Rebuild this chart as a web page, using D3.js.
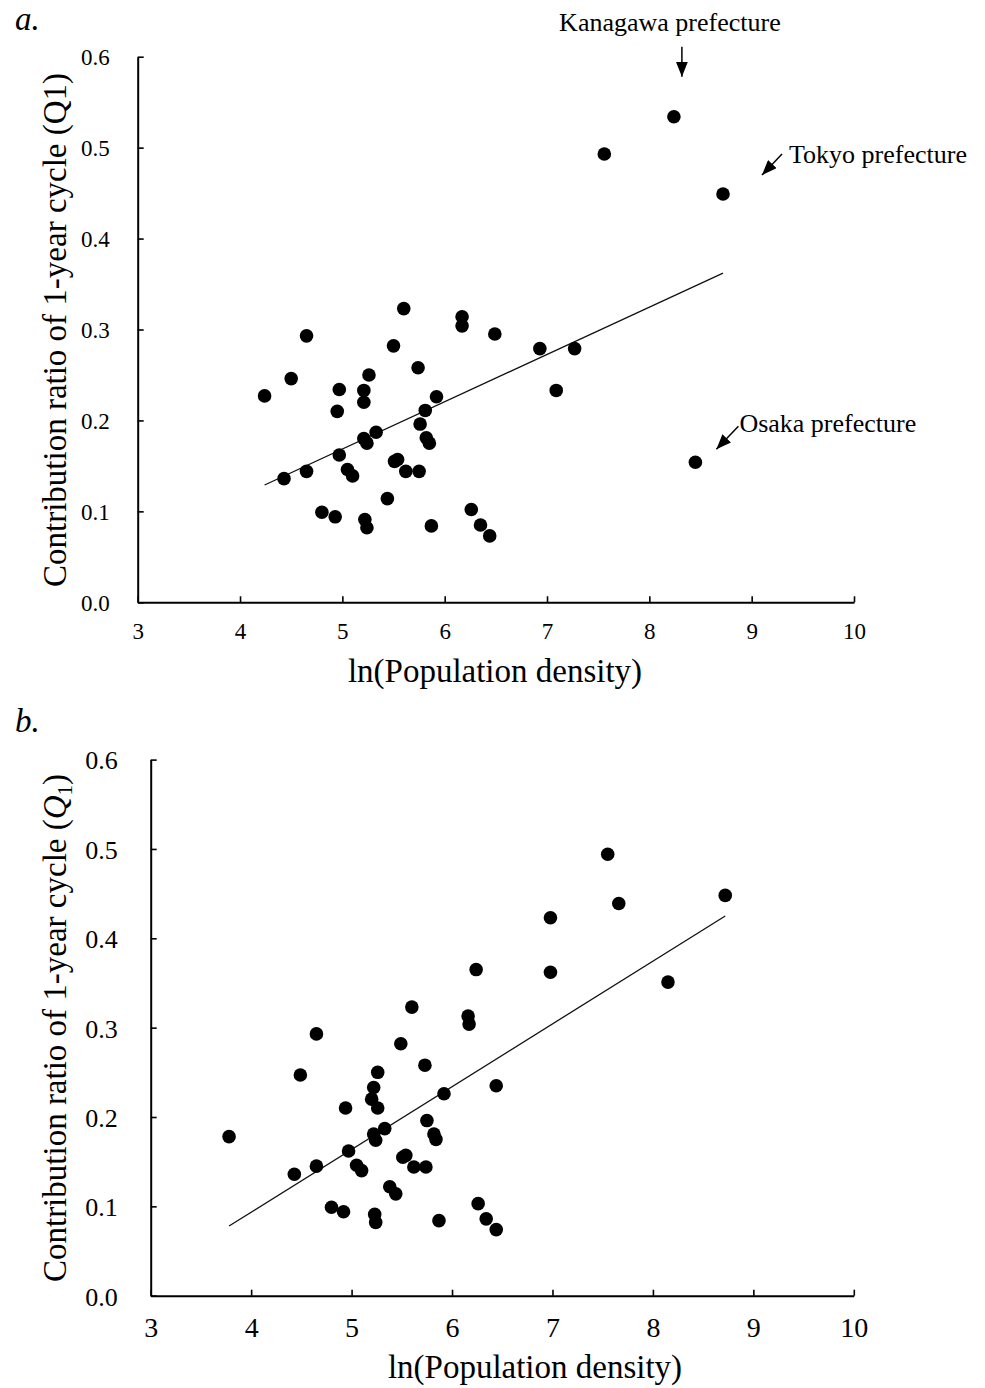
<!DOCTYPE html>
<html>
<head>
<meta charset="utf-8">
<script src="https://cdn.jsdelivr.net/npm/d3@7"></script>
<style>
    body { margin: 0; background: #fff; }
    svg text { font-family: "Liberation Serif", "Times New Roman", serif; fill: #000; }
</style>
</head>
<body>
<svg id="svg-main" width="985" height="1388"></svg>
<script>
// ticks
let xTicks = [3, 4, 5, 6, 7, 8, 9, 10];
let yTicks = [0, 0.1, 0.2, 0.3, 0.4, 0.5, 0.6];

// panel a : ln(population density) vs Q1
let aX = [4.24, 4.50, 4.65, 4.43, 4.65, 4.80, 4.93, 4.97, 4.95, 4.97, 5.05, 5.10, 5.21, 5.21, 5.26, 5.21,
    5.24, 5.33, 5.22, 5.24, 5.44, 5.50, 5.60, 5.51, 5.54, 5.62, 5.75, 5.74, 5.76, 5.81, 5.82, 5.85,
    5.87, 5.92, 6.17, 6.17, 6.49, 6.93, 7.27, 7.09, 6.26, 6.35, 6.44, 8.24, 7.56, 8.72, 8.45];
let aY = [0.227, 0.246, 0.293, 0.136, 0.144, 0.099, 0.094, 0.234, 0.210, 0.162, 0.146, 0.139, 0.233, 0.220, 0.250, 0.180,
    0.175, 0.187, 0.091, 0.082, 0.114, 0.282, 0.323, 0.155, 0.157, 0.144, 0.144, 0.258, 0.196, 0.211, 0.181, 0.175,
    0.084, 0.226, 0.314, 0.304, 0.295, 0.279, 0.279, 0.233, 0.102, 0.085, 0.073, 0.534, 0.493, 0.449, 0.154];
let aFitX = [4.24, 8.72];
let aFitY = [0.129, 0.362];

// annotated prefectures in panel a (index into aX / aY)
let aNotes = ['Kanagawa prefecture', 'Tokyo prefecture', 'Osaka prefecture'];
let aNoteIdx = [43, 45, 46];

// panel b
let bX = [3.78, 4.49, 4.65, 4.43, 4.65, 4.80, 4.92, 4.94, 4.97, 5.05, 5.10, 5.26, 5.22, 5.20, 5.26, 5.22,
    5.24, 5.33, 5.23, 5.24, 5.38, 5.44, 5.49, 5.60, 5.51, 5.54, 5.62, 5.74, 5.73, 5.75, 5.92, 5.82,
    5.84, 5.87, 6.16, 6.17, 6.26, 6.34, 6.44, 6.44, 6.24, 6.98, 6.98, 7.55, 7.66, 8.15, 8.72];
let bY = [0.178, 0.247, 0.293, 0.136, 0.145, 0.099, 0.094, 0.210, 0.162, 0.146, 0.140, 0.250, 0.233, 0.220, 0.210, 0.181,
    0.174, 0.187, 0.091, 0.082, 0.122, 0.114, 0.282, 0.323, 0.155, 0.157, 0.144, 0.144, 0.258, 0.196, 0.226, 0.181,
    0.175, 0.084, 0.313, 0.304, 0.103, 0.086, 0.074, 0.235, 0.365, 0.423, 0.362, 0.494, 0.439, 0.351, 0.448];
let bFitX = [3.78, 8.72];
let bFitY = [0.078, 0.425];

let svg = d3.select('#svg-main');

// arrow head
svg.append('defs').append('marker')
    .attr('id', 'arrow')
    .attr('markerUnits', 'userSpaceOnUse')
    .attr('markerWidth', 15).attr('markerHeight', 12)
    .attr('refX', 15).attr('refY', 6)
    .attr('orient', 'auto')
    .append('path')
    .attr('d', 'M0,0 L15,6 L0,12 Z')
    .attr('fill', '#000');

// 画一个面板
function draw_panel(opt, xs, ys, fitX, fitY) {
    let g = svg.append('g').attr('id', opt.id);

    let x = d3.scaleLinear().domain([3, 10]).range([opt.left, opt.right]);
    let y = d3.scaleLinear().domain([0, 0.6]).range([opt.bottom, opt.top]);

    // x axis, ticks point inward
    let gx = g.append('g')
        .attr('transform', 'translate(0,' + opt.bottom + ')')
        .call(d3.axisBottom(x).tickValues(xTicks).tickSizeInner(-6).tickSizeOuter(0).tickPadding(opt.xPad)
            .tickFormat(d3.format('d')));
    // y axis
    let gy = g.append('g')
        .attr('transform', 'translate(' + opt.left + ',0)')
        .call(d3.axisLeft(y).tickValues(yTicks).tickSizeInner(-6).tickSizeOuter(0).tickPadding(opt.yPad)
            .tickFormat(d3.format('.1f')));

    [gx, gy].forEach(function (a) {
        a.select('.domain').attr('stroke', '#000').attr('stroke-width', 2);
        a.selectAll('.tick line').attr('stroke', '#000').attr('stroke-width', 1.6);
        a.selectAll('.tick text')
            .style('font-family', '"Liberation Serif", serif')
            .attr('fill', '#000');
    });
    gx.selectAll('.tick text').style('font-size', opt.xFont + 'px');
    gy.selectAll('.tick text').style('font-size', opt.yFont + 'px').attr('dy', '0.36em');

    // regression line
    g.append('line')
        .attr('x1', x(fitX[0])).attr('y1', y(fitY[0]))
        .attr('x2', x(fitX[1])).attr('y2', y(fitY[1]))
        .attr('stroke', '#111')
        .attr('stroke-width', 1.3);

    // points
    g.selectAll('circle.pt')
        .data(d3.range(xs.length))
        .enter()
        .append('circle')
        .attr('class', 'pt')
        .attr('cx', i => x(xs[i]))
        .attr('cy', i => y(ys[i]))
        .attr('r', 6.8)
        .attr('fill', '#000');

    // axis titles
    g.append('text')
        .attr('x', opt.xTitleX).attr('y', opt.xTitleY)
        .attr('text-anchor', 'middle')
        .style('font-size', '33px')
        .text('ln(Population density)');

    let yt = g.append('text')
        .attr('transform', 'translate(66,' + opt.yTitleY + ') rotate(-90)')
        .attr('text-anchor', 'middle')
        .style('font-size', '33px');
    if (opt.subscript) {
        yt.append('tspan').text('Contribution ratio of 1-year cycle (');
        yt.append('tspan').style('font-style', 'italic').text('Q');
        yt.append('tspan').attr('dy', 6).style('font-size', '21px').text('1');
        yt.append('tspan').attr('dy', -6).text(')');
    } else {
        yt.text('Contribution ratio of 1-year cycle (Q1)');
    }

    // panel letter
    g.append('text')
        .attr('x', 15).attr('y', opt.labelY)
        .style('font-size', '33px')
        .style('font-style', 'italic')
        .text(opt.label);

    return {x: x, y: y, g: g};
}

let pa = draw_panel({id: 'panel-a', left: 137.7, right: 854, top: 56.7, bottom: 602.3, xPad: 20, yPad: 28,
    xFont: 23, yFont: 23, xTitleX: 495, xTitleY: 682, yTitleY: 330, label: 'a.', labelY: 30, subscript: false},
    aX, aY, aFitX, aFitY);

let pb = draw_panel({id: 'panel-b', left: 150.7, right: 853.8, top: 759.6, bottom: 1295.7, xPad: 21, yPad: 33,
    xFont: 28, yFont: 26, xTitleX: 535, xTitleY: 1378, yTitleY: 1028, label: 'b.', labelY: 732, subscript: true},
    bX, bY, bFitX, bFitY);

// 标注 : offsets of arrow tail / tip and label from the point
let noteArrow = [[8, -70, 8, -40], [59, -40, 39, -19], [43, -36, 21, -13]];
let noteText = [[-4, -86, 'middle'], [66, -31, 'start'], [44, -30, 'start']];

aNoteIdx.forEach(function (idx, i) {
    let px = pa.x(aX[idx]), py = pa.y(aY[idx]);
    let a = noteArrow[i], t = noteText[i];
    pa.g.append('line')
        .attr('x1', px + a[0]).attr('y1', py + a[1])
        .attr('x2', px + a[2]).attr('y2', py + a[3])
        .attr('stroke', '#000')
        .attr('stroke-width', 1.5)
        .attr('marker-end', 'url(#arrow)');
    pa.g.append('text')
        .attr('x', px + t[0]).attr('y', py + t[1])
        .attr('text-anchor', t[2])
        .style('font-size', '26px')
        .text(aNotes[i]);
});
</script>
</body>
</html>
